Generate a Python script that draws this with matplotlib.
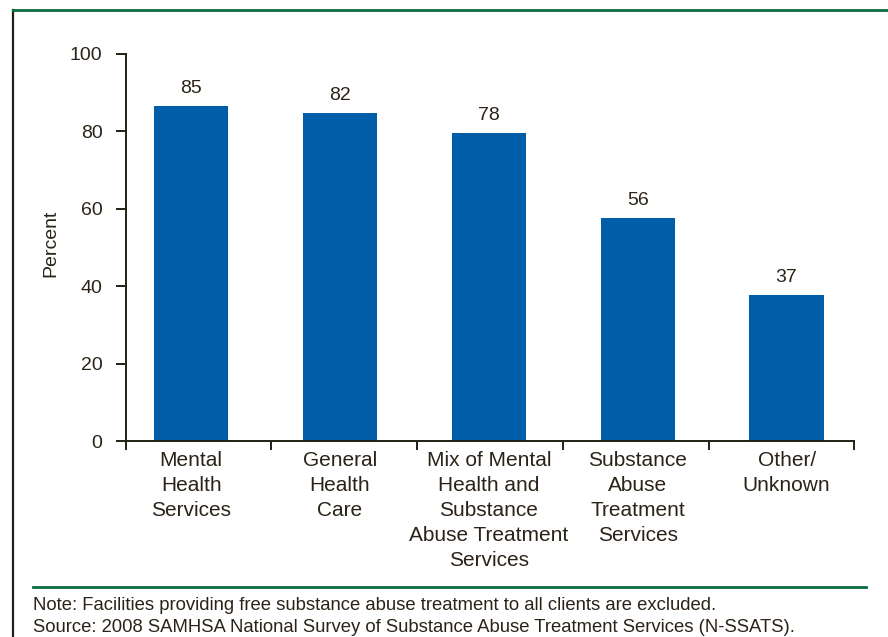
import numpy as np
import matplotlib
matplotlib.use("Agg")
import matplotlib.pyplot as plt
from matplotlib.lines import Line2D

# data (bar heights as drawn, labels as printed)
categories = [
    "Mental\nHealth\nServices",
    "General\nHealth\nCare",
    "Mix of Mental\nHealth and\nSubstance\nAbuse Treatment\nServices",
    "Substance\nAbuse\nTreatment\nServices",
    "Other/\nUnknown",
]
bar_heights = [86.6, 84.8, 79.6, 57.6, 37.7]
value_labels = ["85", "82", "78", "56", "37"]
yticks = [0, 20, 40, 60, 80, 100]

note_lines = [
    "Note: Facilities providing free substance abuse treatment to all clients are excluded.",
    "Source: 2008 SAMHSA National Survey of Substance Abuse Treatment Services (N-SSATS).",
]

TXT = "#2b2317"
BLUE = "#005ea8"
GREEN = "#0a6b3e"
DARK = "#231f14"

plt.rcParams["font.family"] = ["Liberation Sans", "DejaVu Sans"]

W, H = 888, 637
fig = plt.figure(figsize=(W / 100, H / 100), dpi=100)
ax = fig.add_axes([125.7 / W, 1 - 441 / H, (854.3 - 125.7) / W, (441 - 54) / H])

x = np.arange(len(categories))
ax.bar(x, bar_heights, width=0.5, color=BLUE, zorder=2)

for xi, h, lab in zip(x, bar_heights, value_labels):
    ax.annotate(lab, (xi, h), xytext=(0, 9.5), textcoords="offset points",
                ha="center", va="baseline", fontsize=14, color=TXT)

xlim = (-0.44, 4.455)
ax.set_xlim(*xlim)
ax.set_ylim(0, 100)

for s in ["top", "right"]:
    ax.spines[s].set_visible(False)
for s in ["left", "bottom"]:
    ax.spines[s].set_color(DARK)
    ax.spines[s].set_linewidth(1.4)

ax.set_yticks(yticks)
ax.set_yticklabels([str(t) for t in yticks], fontsize=14, color=TXT)
ax.tick_params(axis="y", length=7.2, width=1.4, color=DARK, pad=9.5)

# boundary ticks on x-axis, category labels at bar centers
ax.set_xticks(np.linspace(xlim[0], xlim[1], 6))
ax.set_xticklabels([])
ax.tick_params(axis="x", which="major", length=6.5, width=1.4, color=DARK, direction="out")
ax.set_xticks(x, minor=True)
ax.set_xticklabels(categories, minor=True, fontsize=15, color=TXT, linespacing=1.39)
ax.tick_params(axis="x", which="minor", length=0, pad=7.5)

ax.set_ylabel("Percent", fontsize=14, color=TXT)
ax.yaxis.set_label_coords(-0.0915, 0.512)

# frame lines of the panel
fig.add_artist(Line2D([13.3 / W, 13.3 / W], [0, 1 - 10 / H], color=DARK, lw=1.6))
fig.add_artist(Line2D([13.3 / W, 1], [1 - 10.3 / H, 1 - 10.3 / H], color=GREEN, lw=2))
fig.add_artist(Line2D([33 / W, 866 / W], [1 - 586.7 / H, 1 - 586.7 / H], color=GREEN, lw=2))

for i, line in enumerate(note_lines):
    fig.text(33 / W, 1 - (606 + 22 * i) / H, line, fontsize=13.3, color=TXT, va="center")

fig.savefig("out.png", dpi=100)
